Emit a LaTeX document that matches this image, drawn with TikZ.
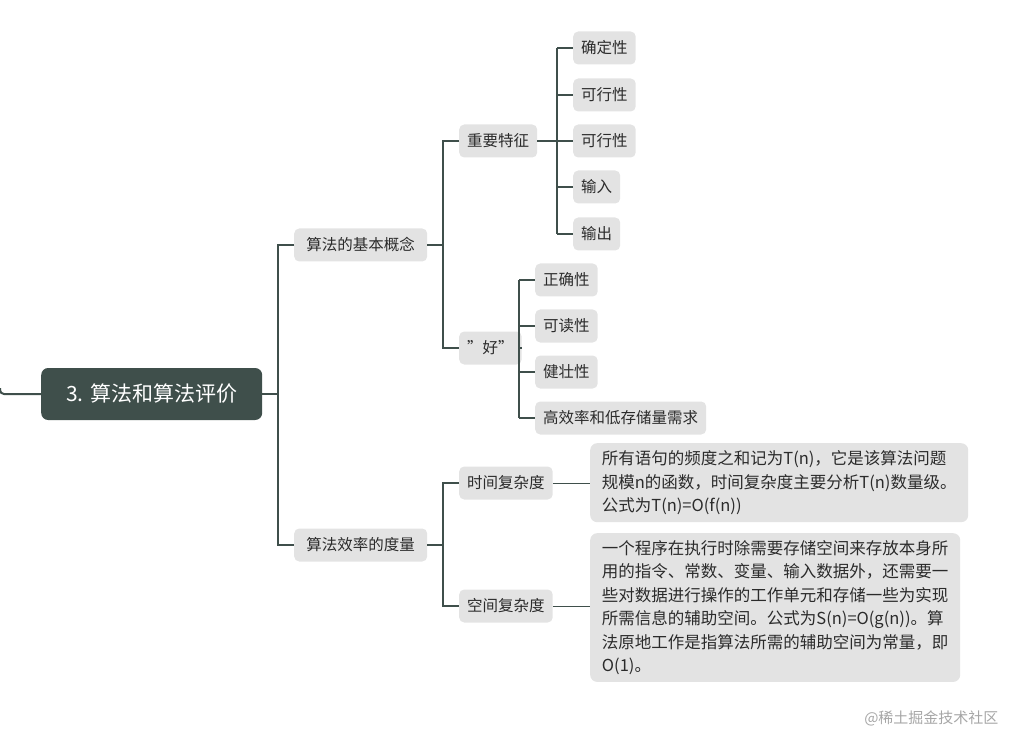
\documentclass[tikz,border=0pt]{standalone}
\usepackage{fontspec}
\setmainfont{Noto Sans CJK SC}
\begin{document}
\begin{tikzpicture}[x=1pt,y=-1pt,
  ln/.style={draw=lc,line width=2pt},
  bx/.style={fill=bg,rounded corners=5pt,text=tc,anchor=west,minimum height=33pt,inner xsep=8pt,font=\fontsize{15.5}{18}\selectfont},
  tb/.style={fill=bg,rounded corners=7pt,text=tc,anchor=north west,align=left,inner xsep=8pt,inner ysep=7pt,font=\fontsize{16.5}{23.5}\selectfont}]
\definecolor{lc}{HTML}{3F4F4B}
\definecolor{bg}{HTML}{E3E3E3}
\definecolor{tc}{HTML}{2B2B2B}
\useasboundingbox (0,0) rectangle (1020,751);
\node[fill=lc,rounded corners=7pt,text=white,anchor=west,minimum width=221pt,minimum height=52pt,font=\fontsize{21}{24}\selectfont] (root) at (41,394) {3. 算法和算法评价};
\coordinate (l0) at (0,388);
\draw[ln,rounded corners=4pt] (l0) |- (root.west);
\node[bx,minimum width=133pt] (a) at (294,245) {算法的基本概念};
\node[bx,minimum width=133pt] (b) at (294,545) {算法效率的度量};
\draw[ln] (root.east) -- (278,394);
\draw[ln] (a.west) -| (278,394) |- (b.west);
\node[bx] (a1) at (459,141) {重要特征};
\node[bx] (a2) at (459,348) {"好"};
\draw[ln] (a.east) -- (443,245);
\draw[ln] (a1.west) -| (443,245) |- (a2.west);
\foreach \n/\y/\t in {c1/48/确定性,c2/95/可行性,c3/141/可行性,c4/187/输入,c5/234/输出}{
  \node[bx] (\n) at (573,\y) {\t};
  \draw[ln] (557,\y) -- (\n.west);
}
\draw[ln] (a1.east) -- (c3.west);
\draw[ln] (557,48) -- (557,234);
\foreach \n/\y/\t in {d1/280/正确性,d2/326/可读性,d3/372/健壮性,d4/418/高效率和低存储量需求}{
  \node[bx] (\n) at (535,\y) {\t};
  \draw[ln] (519,\y) -- (\n.west);
}
\draw[ln] (a2.east) -- (519,348);
\draw[ln] (519,280) -- (519,418);
\node[bx] (b1) at (459,483) {时间复杂度};
\node[bx] (b2) at (459,606) {空间复杂度};
\draw[ln] (b.east) -- (443,545);
\draw[ln] (b1.west) -| (443,545) |- (b2.west);
\node[tb,minimum width=378pt,minimum height=79pt] (t1) at (590,443) {所有语句的频度之和记为T(n)，它是该算法问题\\规模n的函数，时间复杂度主要分析T(n)数量级。\\公式为T(n)=O(f(n))};
\node[tb,minimum width=370pt,minimum height=144pt] (t2) at (590,533) {一个程序在执行时除需要存储空间来存放本身所\\用的指令、常数、变量、输入数据外，还需要一\\些对数据进行操作的工作单元和存储一些为实现\\所需信息的辅助空间。公式为S(n)=O(g(n))。算\\法原地工作是指算法所需的辅助空间为常量，即\\O(1)。};
\draw[ln,line width=1pt] (b1.east) -- (b1.east -| t1.west);
\draw[ln,line width=1pt] (b2.east) -- (b2.east -| t2.west);
\node[text=gray!70,anchor=east,font=\fontsize{15}{18}\selectfont] (wm) at (1002,718) {@稀土掘金技术社区};
\end{tikzpicture}
\end{document}
